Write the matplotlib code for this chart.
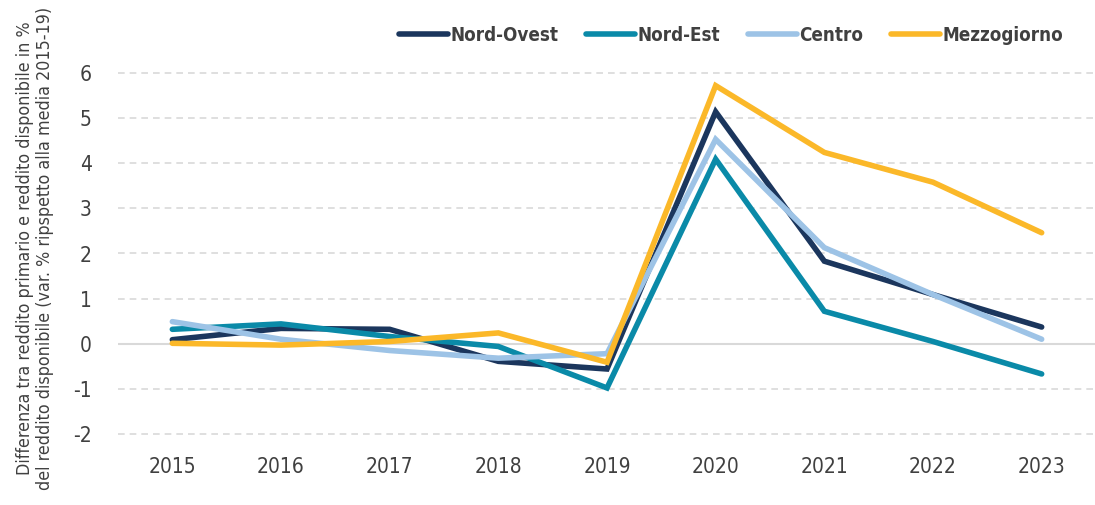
import matplotlib
matplotlib.use("Agg")
import matplotlib.pyplot as plt

years = [2015, 2016, 2017, 2018, 2019, 2020, 2021, 2022, 2023]
nord_ovest = [0.09, 0.34, 0.32, -0.39, -0.56, 5.14, 1.83, 1.09, 0.37]
nord_est = [0.32, 0.44, 0.16, -0.06, -0.98, 4.09, 0.72, 0.05, -0.67]
centro = [0.49, 0.10, -0.15, -0.32, -0.22, 4.53, 2.13, 1.09, 0.10]
mezzogiorno = [0.01, -0.03, 0.05, 0.24, -0.41, 5.72, 4.24, 3.58, 2.46]

series_names = ["Nord-Ovest", "Nord-Est", "Centro", "Mezzogiorno"]
colors = ["#1b365d", "#0a8aa8", "#9dc3e6", "#fbb829"]
yticks = [-2, -1, 0, 1, 2, 3, 4, 5, 6]

plt.rcParams["font.family"] = ["DejaVu Sans"]
plt.rcParams["font.stretch"] = "condensed"

W, H = 1095, 505
fig = plt.figure(figsize=(W / 100, H / 100), dpi=100)
left, right = 118, 1096
top, bottom = 70.75, 436.25
ax = fig.add_axes([left / W, 1 - bottom / H, (right - left) / W, (bottom - top) / H])

for vals, name, c in zip([nord_ovest, nord_est, centro, mezzogiorno], series_names, colors):
    ax.plot(years, vals, color=c, lw=4.0, label=name, solid_capstyle="round",
            solid_joinstyle="miter", zorder=3)

ax.set_xlim(2014.5, 2023.5)
ax.set_ylim(-2.05, 6.05)
ax.set_yticks(yticks)
ax.set_yticklabels([str(v) for v in yticks])
ax.set_xticks(years)
ax.set_xticklabels([str(y) for y in years])

for v in yticks:
    if v == 0:
        ax.axhline(v, color="#d9d9d9", lw=1.5, zorder=1)
    else:
        ax.axhline(v, color="#d9d9d9", lw=1.2, ls=(0, (4, 3)), zorder=1)

for s in ax.spines.values():
    s.set_visible(False)
ax.tick_params(axis="both", length=0, labelsize=15, colors="#404040")
for lab in ax.get_xticklabels() + ax.get_yticklabels():
    lab.set_fontstretch("condensed")
ax.tick_params(axis="y", pad=19)
ax.tick_params(axis="x", pad=15)

fig.text(35 / W, 1 - 248 / H,
         "Differenza tra reddito primario e reddito disponibile in %\n"
         "del reddito disponibile (var. % ripspetto alla media 2015-19)",
         rotation=90, ha="center", va="center", fontsize=12.8, color="#404040",
         linespacing=1.2, fontstretch="condensed")

leg = fig.legend(loc="center right", bbox_to_anchor=(1063 / W, 1 - 35 / H), ncol=4,
                 frameon=False, handlelength=2.6, handletextpad=0.12, columnspacing=1.5,
                 borderpad=0.0, borderaxespad=0.0,
                 prop={"size": 13.5, "weight": "bold", "stretch": "condensed"})
for t in leg.get_texts():
    t.set_color("#404040")

fig.savefig("out.png", dpi=100)
